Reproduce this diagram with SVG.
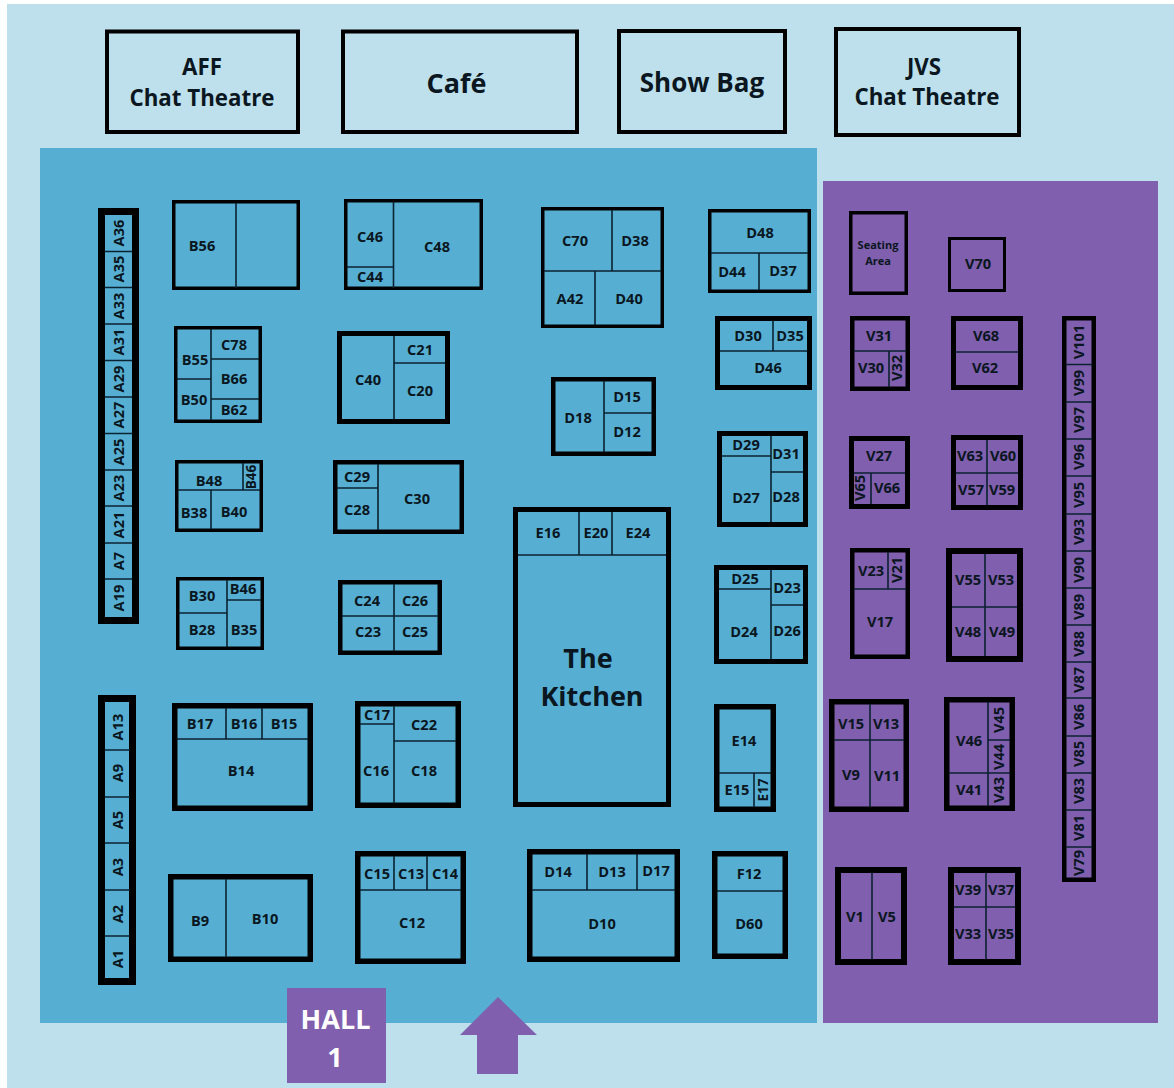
<svg xmlns="http://www.w3.org/2000/svg" width="1174" height="1088" viewBox="0 0 1174 1088">
<style>
text{font-family:"Open Sans","Noto Sans",sans-serif;fill:#0a1620;text-anchor:middle;dominant-baseline:central;baseline-shift:1px}
.t{font-size:14.6px;font-weight:700}
.s{font-size:13.6px;font-weight:700}
.h{font-size:22.3px;font-weight:700}
.c{font-size:26px;font-weight:700}
.k{font-size:27px;font-weight:700}
.w{font-size:27px;font-weight:700;fill:#fff}
.m{font-size:11px;font-weight:700}
.b{fill:none;stroke:#000}
.d{fill:none;stroke:#0b2230;stroke-width:1.6}
.b3{stroke-width:3}.b35{stroke-width:3.5}.b4{stroke-width:4}.b45{stroke-width:4.5}.b5{stroke-width:5}.b55{stroke-width:5.5}.b6{stroke-width:6}.b7{stroke-width:7}
</style>
<rect width="1174" height="1088" fill="#ffffff"/>
<rect x="7" y="4" width="1167" height="1084" fill="#bde0ec"/>
<rect x="40" y="148" width="777" height="875" fill="#56afd3"/>
<rect x="823" y="181" width="335" height="842" fill="#7f5fae"/>

<g id="aff"><rect class="b b4" x="107" y="31.5" width="191" height="100.5"/><text class="h" x="202" y="67">AFF</text><text class="h" x="202" y="98">Chat Theatre</text></g>
<g id="cafe"><rect class="b b4" x="343" y="31.5" width="234" height="100.5"/><text class="c" x="456.5" y="83" style="font-size:27px">Café</text></g>
<g id="showbag"><rect class="b b4" x="619" y="31" width="166" height="101"/><text class="c" x="702" y="83">Show Bag</text></g>
<g id="jvs"><rect class="b b4" x="836" y="29" width="183" height="106"/><text class="h" x="924" y="67">JVS</text><text class="h" x="927" y="97">Chat Theatre</text></g>

<g id="strip-a-upper"><rect class="b b7" x="101.5" y="211.5" width="34" height="409"/>
<path class="d" d="M105 251.5H132M105 287.5H132M105 324H132M105 360.5H132M105 397H132M105 433.5H132M105 470H132M105 506H132M105 543H132M105 579H132"/>
<text class="t" transform="translate(119 233) rotate(-90)">A36</text><text class="t" transform="translate(119 269) rotate(-90)">A35</text><text class="t" transform="translate(119 306) rotate(-90)">A33</text><text class="t" transform="translate(119 342) rotate(-90)">A31</text><text class="t" transform="translate(119 379) rotate(-90)">A29</text><text class="t" transform="translate(119 415) rotate(-90)">A27</text><text class="t" transform="translate(119 452) rotate(-90)">A25</text><text class="t" transform="translate(119 488) rotate(-90)">A23</text><text class="t" transform="translate(119 525) rotate(-90)">A21</text><text class="t" transform="translate(119 561) rotate(-90)">A7</text><text class="t" transform="translate(119 598) rotate(-90)">A19</text></g>

<g id="strip-a-lower"><rect class="b b7" x="101.5" y="698.5" width="31" height="283"/>
<path class="d" d="M105 750H130M105 797H130M105 843H130M105 890H130M105 936H130"/>
<text class="t" transform="translate(118 727) rotate(-90)">A13</text><text class="t" transform="translate(118 773) rotate(-90)">A9</text><text class="t" transform="translate(118 820) rotate(-90)">A5</text><text class="t" transform="translate(118 867) rotate(-90)">A3</text><text class="t" transform="translate(118 914) rotate(-90)">A2</text><text class="t" transform="translate(118 959) rotate(-90)">A1</text></g>

<g id="b56"><rect class="b b35" x="173.75" y="201.75" width="124.5" height="86.5"/><path class="d" d="M236 203V288"/><text class="t" x="202" y="246">B56</text></g>
<g id="c46"><rect class="b b35" x="345.75" y="200.75" width="135.5" height="87.5"/><path class="d" d="M393.5 202V288M347 267H393.5"/><text class="t" x="370" y="237">C46</text><text class="t" x="370" y="277">C44</text><text class="t" x="437" y="247">C48</text></g>
<g id="c70"><rect class="b b35" x="542.75" y="208.75" width="119.5" height="117.5"/><path class="d" d="M544 271H661M612 210V271M595 271V325"/><text class="t" x="575" y="241">C70</text><text class="t" x="635" y="241">D38</text><text class="t" x="570" y="299">A42</text><text class="t" x="629" y="299">D40</text></g>
<g id="d48"><rect class="b b35" x="709.75" y="210.75" width="99.5" height="80.5"/><path class="d" d="M711 253H808M759 253V290"/><text class="t" x="760" y="233">D48</text><text class="t" x="732" y="272">D44</text><text class="t" x="783" y="271">D37</text></g>
<g id="d30"><rect class="b b5" x="717.5" y="318.5" width="92" height="69"/><path class="d" d="M720 351H807M773 321V351"/><text class="t" x="748" y="336">D30</text><text class="t" x="790" y="336">D35</text><text class="t" x="768" y="368">D46</text></g>
<g id="b55"><rect class="b b35" x="175.75" y="327.75" width="84.5" height="93.5"/><path class="d" d="M211 329V420M177 379H211M211 359H259M211 399H259"/><text class="t" x="195" y="360">B55</text><text class="t" x="234" y="345">C78</text><text class="t" x="234" y="379">B66</text><text class="t" x="194" y="400">B50</text><text class="t" x="234" y="410">B62</text></g>
<g id="c40"><rect class="b b5" x="339.5" y="333.5" width="108" height="88"/><path class="d" d="M394 336V419M394 363H445"/><text class="t" x="368" y="380">C40</text><text class="t" x="420" y="350">C21</text><text class="t" x="420" y="391">C20</text></g>
<g id="d18"><rect class="b b45" x="553.25" y="379.25" width="100.5" height="74.5"/><path class="d" d="M604 381V452M604 413H652"/><text class="t" x="578" y="418">D18</text><text class="t" x="627" y="397">D15</text><text class="t" x="627" y="432">D12</text></g>
<g id="d29"><rect class="b b5" x="719.5" y="433.5" width="86" height="91"/><path class="d" d="M771 436V522M722 456H771M771 472H803"/><text class="t" x="746" y="445">D29</text><text class="t" x="786" y="454">D31</text><text class="t" x="746" y="498">D27</text><text class="t" x="786" y="497">D28</text></g>
<g id="b48"><rect class="b b35" x="176.75" y="461.75" width="84.5" height="68.5"/><path class="d" d="M178 490H260M243 463V490M211 490V529"/><text class="t" x="209" y="481">B48</text><text class="s" transform="translate(251 477) rotate(-90)">B46</text><text class="t" x="194" y="513">B38</text><text class="t" x="234" y="512">B40</text></g>
<g id="c29"><rect class="b b45" x="335.25" y="462.25" width="126.5" height="69.5"/><path class="d" d="M378 464V530M337 488H378"/><text class="t" x="357" y="477">C29</text><text class="t" x="357" y="510">C28</text><text class="t" x="417" y="499">C30</text></g>
<g id="kitchen"><rect class="b b5" x="515.5" y="509.5" width="153" height="295"/><path class="d" d="M518 555H666M579 512V555M612 512V555"/><text class="t" x="548" y="533">E16</text><text class="t" x="596" y="533">E20</text><text class="t" x="638" y="533">E24</text><text class="k" x="588" y="658">The</text><text class="k" x="592" y="696">Kitchen</text></g>
<g id="d25"><rect class="b b5" x="716.5" y="567.5" width="89" height="94"/><path class="d" d="M771 570V659M719 589H771M771 605H803"/><text class="t" x="745" y="579">D25</text><text class="t" x="787" y="588">D23</text><text class="t" x="744" y="632">D24</text><text class="t" x="787" y="631">D26</text></g>
<g id="b30"><rect class="b b35" x="177.75" y="578.75" width="84.5" height="69.5"/><path class="d" d="M227 580V647M179 613H227M227 600H261"/><text class="t" x="202" y="596">B30</text><text class="t" x="243" y="589">B46</text><text class="t" x="202" y="630">B28</text><text class="t" x="244" y="630">B35</text></g>
<g id="c24"><rect class="b b45" x="340.25" y="582.25" width="99.5" height="70.5"/><path class="d" d="M394 584V651M342 616H438"/><text class="t" x="367" y="601">C24</text><text class="t" x="415" y="601">C26</text><text class="t" x="368" y="632">C23</text><text class="t" x="415" y="632">C25</text></g>
<g id="b17"><rect class="b b55" x="174.75" y="705.75" width="135.5" height="102.5"/><path class="d" d="M177 739H308M226 708V739M262 708V739"/><text class="t" x="200" y="724">B17</text><text class="t" x="244" y="724">B16</text><text class="t" x="284" y="724">B15</text><text class="t" x="241" y="771">B14</text></g>
<g id="c17"><rect class="b b55" x="357.75" y="703.75" width="100.5" height="101.5"/><path class="d" d="M394 706V803M360 724H394M394 741H456"/><text class="t" x="377" y="715">C17</text><text class="t" x="424" y="725">C22</text><text class="t" x="376" y="771">C16</text><text class="t" x="424" y="771">C18</text></g>
<g id="e14"><rect class="b b55" x="716.75" y="706.75" width="56.5" height="102.5"/><path class="d" d="M719 773H771M754 773V807"/><text class="t" x="744" y="741">E14</text><text class="t" x="737" y="790">E15</text><text class="s" transform="translate(763 790) rotate(-90)">E17</text></g>
<g id="d10"><rect class="b b55" x="529.75" y="851.75" width="147.5" height="107.5"/><path class="d" d="M532 890H675M587 854V890M637 854V890"/><text class="t" x="558" y="872">D14</text><text class="t" x="612" y="872">D13</text><text class="t" x="656" y="871">D17</text><text class="t" x="602" y="924">D10</text></g>
<g id="f12"><rect class="b b55" x="714.75" y="853.75" width="70.5" height="102.5"/><path class="d" d="M717 891H783"/><text class="t" x="749" y="874">F12</text><text class="t" x="749" y="924">D60</text></g>
<g id="b9"><rect class="b b55" x="170.75" y="876.75" width="139.5" height="82.5"/><path class="d" d="M226 879V957"/><text class="t" x="200" y="921">B9</text><text class="t" x="265" y="919">B10</text></g>
<g id="c15"><rect class="b b55" x="357.75" y="853.75" width="105.5" height="107.5"/><path class="d" d="M360 890H461M394 856V890M427 856V890"/><text class="t" x="377" y="874">C15</text><text class="t" x="411" y="874">C13</text><text class="t" x="445" y="874">C14</text><text class="t" x="412" y="923">C12</text></g>

<g id="hall"><rect x="287" y="988" width="99" height="95" fill="#7f5fae"/><text class="w" x="335.5" y="1019">HALL</text><text class="w" x="335" y="1057">1</text></g>
<g id="entrance"><path d="M498 997L537 1035H518V1074H477V1035H460Z" fill="#7f5fae"/></g>

<g id="seating"><rect class="b b35" x="850.75" y="212.75" width="55.5" height="80.5"/><text class="m" x="878" y="245">Seating</text><text class="m" x="878" y="261">Area</text></g>
<g id="v70"><rect class="b b3" x="949.5" y="238.5" width="55" height="52"/><text class="t" x="978" y="264">V70</text></g>
<g id="v31"><rect class="b b45" x="852.25" y="318.25" width="55.5" height="70.5"/><path class="d" d="M854 351H906M889 351V387"/><text class="t" x="879" y="336">V31</text><text class="t" x="871" y="368">V30</text><text class="t" transform="translate(897 368) rotate(-90)">V32</text></g>
<g id="v68"><rect class="b b5" x="953.5" y="318.5" width="67" height="69"/><path class="d" d="M956 352H1018"/><text class="t" x="986" y="336">V68</text><text class="t" x="985" y="368">V62</text></g>
<g id="v27"><rect class="b b5" x="851.5" y="438.5" width="56" height="68"/><path class="d" d="M854 473H905M871 473V504"/><text class="t" x="879" y="456">V27</text><text class="t" transform="translate(860 488) rotate(-90)">V65</text><text class="t" x="887" y="488">V66</text></g>
<g id="v63"><rect class="b b5" x="953.5" y="437.5" width="67" height="70"/><path class="d" d="M987 440V505M956 473H1018"/><text class="t" x="970" y="456">V63</text><text class="t" x="1003" y="456">V60</text><text class="t" x="971" y="490">V57</text><text class="t" x="1002" y="490">V59</text></g>
<g id="v23"><rect class="b b45" x="852.25" y="550.25" width="55.5" height="106.5"/><path class="d" d="M854 589H906M888 552V589"/><text class="t" x="871" y="571">V23</text><text class="t" transform="translate(897 570) rotate(-90)">V21</text><text class="t" x="880" y="622">V17</text></g>
<g id="v55"><rect class="b b6" x="949" y="551" width="71" height="108"/><path class="d" d="M985 554V656M952 607H1017"/><text class="t" x="968" y="580">V55</text><text class="t" x="1001" y="580">V53</text><text class="t" x="968" y="632">V48</text><text class="t" x="1002" y="632">V49</text></g>
<g id="v15"><rect class="b b55" x="831.75" y="701.75" width="74.5" height="107.5"/><path class="d" d="M870 704V807M834 740H904"/><text class="t" x="851" y="724">V15</text><text class="t" x="886" y="724">V13</text><text class="t" x="851" y="775">V9</text><text class="t" x="887" y="776">V11</text></g>
<g id="v46"><rect class="b b55" x="946.75" y="699.75" width="65.5" height="108.5"/><path class="d" d="M988 702V806M949 773H1010M988 740H1010"/><text class="t" x="969" y="741">V46</text><text class="t" x="969" y="790">V41</text><text class="t" transform="translate(999 720) rotate(-90)">V45</text><text class="t" transform="translate(999 757) rotate(-90)">V44</text><text class="t" transform="translate(999 790) rotate(-90)">V43</text></g>
<g id="v1"><rect class="b b6" x="838" y="870" width="66" height="92"/><path class="d" d="M872 873V959"/><text class="t" x="855" y="917">V1</text><text class="t" x="887" y="917">V5</text></g>
<g id="v39"><rect class="b b6" x="951" y="870" width="67" height="92"/><path class="d" d="M986 873V959M954 907H1015"/><text class="t" x="968" y="890">V39</text><text class="t" x="1001" y="890">V37</text><text class="t" x="968" y="934">V33</text><text class="t" x="1001" y="934">V35</text></g>

<g id="strip-v"><rect class="b b45" x="1064.25" y="318.25" width="29.5" height="561.5"/>
<path class="d" d="M1066 364.5H1092M1066 402H1092M1066 439H1092M1066 476H1092M1066 514H1092M1066 551H1092M1066 588H1092M1066 625H1092M1066 662H1092M1066 698H1092M1066 736H1092M1066 773H1092M1066 810H1092M1066 847H1092"/>
<text class="t" transform="translate(1079 342) rotate(-90)">V101</text><text class="t" transform="translate(1079 383) rotate(-90)">V99</text><text class="t" transform="translate(1079 420) rotate(-90)">V97</text><text class="t" transform="translate(1079 457) rotate(-90)">V96</text><text class="t" transform="translate(1079 495) rotate(-90)">V95</text><text class="t" transform="translate(1079 532) rotate(-90)">V93</text><text class="t" transform="translate(1079 570) rotate(-90)">V90</text><text class="t" transform="translate(1079 607) rotate(-90)">V89</text><text class="t" transform="translate(1079 644) rotate(-90)">V88</text><text class="t" transform="translate(1079 680) rotate(-90)">V87</text><text class="t" transform="translate(1079 717) rotate(-90)">V86</text><text class="t" transform="translate(1079 754) rotate(-90)">V85</text><text class="t" transform="translate(1079 791) rotate(-90)">V83</text><text class="t" transform="translate(1079 828) rotate(-90)">V81</text><text class="t" transform="translate(1079 863) rotate(-90)">V79</text></g>
</svg>
